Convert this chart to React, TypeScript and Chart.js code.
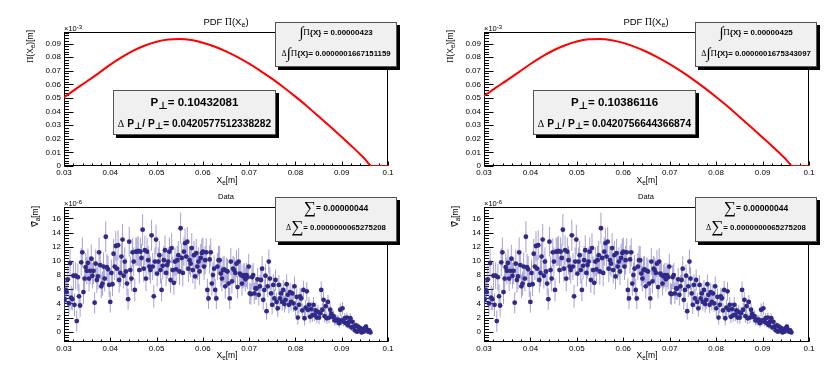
import React, { useEffect, useRef } from "react";
import { Chart, registerables } from "chart.js";

Chart.register(...registerables);

const SANS = "'Liberation Sans', Arial, Helvetica, sans-serif";
const SERIF = "'Liberation Serif', 'Times New Roman', serif";

// ---------- axes ----------
const X_TICKS = [0.03, 0.04, 0.05, 0.06, 0.07, 0.08, 0.09, 0.1];
const PDF_Y_TICKS = [0, 0.01, 0.02, 0.03, 0.04, 0.05, 0.06, 0.07, 0.08, 0.09];
const DATA_Y_TICKS = [0, 2, 4, 6, 8, 10, 12, 14, 16];

// ---------- PDF curves (units of 1e-3) ----------
const PDF_X = [
  0.03, 0.0325, 0.035, 0.0375, 0.04, 0.0425, 0.045, 0.0475, 0.05, 0.0525,
  0.055, 0.0575, 0.06, 0.0625, 0.065, 0.0675, 0.07, 0.0725, 0.075, 0.0775,
  0.08, 0.0825, 0.085, 0.0875, 0.09, 0.0925, 0.095, 0.0965, 0.1,
];
const PDF_LEFT_Y = [
  0.0505, 0.0565, 0.0623, 0.0683, 0.0745, 0.08, 0.0848, 0.0886, 0.0914, 0.093,
  0.0934, 0.0926, 0.0906, 0.0878, 0.0842, 0.08, 0.0752, 0.0698, 0.064, 0.0577,
  0.051, 0.044, 0.0365, 0.029, 0.0213, 0.0135, 0.0052, 0, 0,
];
const PDF_RIGHT_Y = [
  0.0515, 0.0574, 0.0631, 0.069, 0.075, 0.0804, 0.0851, 0.0888, 0.0915, 0.0931,
  0.0934, 0.0925, 0.0905, 0.0876, 0.084, 0.0797, 0.0749, 0.0695, 0.0637, 0.0574,
  0.0507, 0.0437, 0.0362, 0.0287, 0.021, 0.0132, 0.005, 0, 0,
];

// ---------- Data histogram (units of 1e-6), bins from first to last centre ----------
const DATA_X_FIRST = 0.0301;
const DATA_X_LAST = 0.0962;
const DATA_Y = [
  4.6, 5.9, 5.6, 7.4, 4.0, 9.7, 4.8, 4.6, 7.9, 3.8,
  7.9, 1.5, 7.7, 5.0, 3.7, 9.8, 11.2, 5.6, 7.5, 9.1,
  8.6, 9.7, 7.5, 8.6, 10.3, 7.9, 8.6, 4.1, 9.6, 7.3,
  7.8, 11.2, 9.4, 6.4, 6.8, 9.2, 7.5, 13.4, 9.1, 8.8,
  6.6, 4.2, 8.3, 6.7, 11.0, 9.2, 12.1, 8.9, 12.2, 7.3,
  8.3, 10.6, 13.0, 7.9, 9.9, 8.5, 6.8, 4.6, 12.7, 8.7,
  7.5, 11.2, 9.9, 5.9, 11.3, 11.3, 11.4, 8.7, 11.3, 10.4,
  14.4, 8.9, 11.5, 7.5, 11.3, 10.1, 9.2, 8.7, 13.6, 9.2,
  5.0, 9.9, 13.0, 8.2, 9.9, 10.8, 8.7, 5.9, 9.3, 10.1,
  11.5, 8.3, 9.4, 9.9, 11.3, 7.3, 11.8, 8.7, 6.9, 9.9,
  8.8, 10.1, 10.8, 8.5, 14.6, 10.4, 8.3, 11.3, 12.5, 10.6,
  12.7, 8.9, 10.1, 9.6, 11.8, 8.7, 10.8, 7.8, 11.1, 9.2,
  9.9, 8.5, 10.4, 11.1, 11.3, 9.2, 10.1, 11.2, 5.9, 4.7,
  10.2, 11.2, 6.8, 8.0, 8.9, 5.9, 4.7, 9.2, 10.1, 10.1,
  8.2, 7.5, 8.7, 8.8, 6.4, 8.6, 8.5, 6.8, 4.7, 9.9,
  7.1, 8.9, 8.7, 8.3, 9.6, 6.3, 9.9, 8.2, 8.0, 6.8,
  7.8, 8.0, 7.4, 8.0, 7.7, 9.2, 5.4, 5.3, 7.7, 8.0,
  5.4, 6.1, 6.1, 7.4, 5.2, 6.4, 7.3, 8.9, 4.5, 5.9,
  7.9, 2.9, 6.4, 9.9, 7.5, 5.4, 3.8, 6.6, 4.7, 7.3,
  4.2, 3.3, 6.6, 4.7, 5.4, 4.2, 5.9, 3.9, 4.5, 6.7,
  5.2, 3.8, 5.6, 4.2, 5.4, 4.0, 6.4, 3.3, 4.9, 2.0,
  3.8, 5.0, 4.7, 3.0, 5.9, 1.9, 3.4, 5.7, 3.1, 3.8,
  2.1, 3.2, 2.3, 3.8, 2.4, 3.0, 2.0, 2.8, 2.0, 2.6,
  5.9, 3.1, 4.5, 2.2, 3.6, 1.9, 4.2, 2.0, 3.1, 2.5,
  2.1, 2.2, 1.6, 1.7, 1.6, 1.7, 1.2, 3.1, 1.6, 3.3,
  1.4, 1.9, 1.2, 2.0, 0.9, 1.4, 1.9, 0.6, 1.4, 0.7,
  0.2, 0.9, 0.0, 0.7, 0.2, 0.5, -0.1, 0.3, 0.0, 0.5,
  0.7, 0.3, 0.0, 0.2, -0.1,
];
const DATA_ERR = [
  1.6, 1.8, 1.7, 1.9, 1.6, 2.0, 1.7, 1.6, 1.9, 1.6,
  1.9, 1.5, 1.9, 1.7, 1.6, 2.0, 2.1, 1.7, 1.9, 2.0,
  1.9, 2.0, 1.8, 1.9, 2.0, 1.8, 1.9, 1.5, 2.0, 1.8,
  1.8, 2.1, 2.0, 1.7, 1.7, 2.0, 1.8, 2.2, 1.9, 1.9,
  1.7, 1.5, 1.9, 1.7, 2.1, 1.9, 2.1, 1.9, 2.1, 1.8,
  1.9, 2.0, 2.2, 1.8, 2.0, 1.9, 1.7, 1.5, 2.1, 1.9,
  1.8, 2.0, 2.0, 1.6, 2.0, 2.0, 2.1, 1.9, 2.0, 2.0,
  2.2, 1.9, 2.1, 1.8, 2.0, 2.0, 1.9, 1.9, 2.2, 1.9,
  1.6, 2.0, 2.1, 1.8, 2.0, 2.0, 1.9, 1.6, 1.9, 2.0,
  2.1, 1.9, 1.9, 2.0, 2.0, 1.8, 2.1, 1.9, 1.7, 2.0,
  1.9, 2.0, 2.0, 1.9, 2.2, 2.0, 1.9, 2.0, 2.1, 2.0,
  2.1, 1.9, 2.0, 1.9, 2.1, 1.9, 2.0, 1.8, 2.0, 1.9,
  2.0, 1.9, 2.0, 2.0, 2.0, 1.9, 2.0, 2.0, 1.6, 1.5,
  2.0, 2.0, 1.7, 1.8, 1.9, 1.6, 1.5, 1.9, 2.0, 2.0,
  1.8, 1.8, 1.9, 1.9, 1.7, 1.9, 1.8, 1.7, 1.5, 1.9,
  1.7, 1.8, 1.8, 1.8, 1.9, 1.6, 1.9, 1.8, 1.7, 1.7,
  1.7, 1.7, 1.7, 1.7, 1.7, 1.8, 1.5, 1.5, 1.7, 1.7,
  1.5, 1.6, 1.6, 1.6, 1.5, 1.6, 1.6, 1.8, 1.4, 1.5,
  1.6, 1.2, 1.5, 1.7, 1.6, 1.4, 1.3, 1.5, 1.3, 1.5,
  1.3, 1.2, 1.4, 1.3, 1.4, 1.2, 1.4, 1.2, 1.3, 1.4,
  1.3, 1.2, 1.3, 1.2, 1.3, 1.2, 1.4, 1.1, 1.2, 1.0,
  1.2, 1.2, 1.2, 1.0, 1.3, 1.0, 1.1, 1.3, 1.0, 1.1,
  0.9, 1.0, 0.9, 1.1, 0.9, 1.0, 0.8, 1.0, 0.9, 0.9,
  1.2, 1.0, 1.1, 0.9, 1.0, 0.8, 1.0, 0.8, 0.9, 0.8,
  0.8, 0.8, 0.7, 0.7, 0.7, 0.7, 0.6, 0.9, 0.7, 0.9,
  0.6, 0.7, 0.6, 0.7, 0.5, 0.6, 0.7, 0.5, 0.6, 0.5,
  0.4, 0.5, 0.3, 0.5, 0.4, 0.4, 0.3, 0.4, 0.3, 0.4,
  0.4, 0.3, 0.3, 0.3, 0.3,
];

// ---------- box texts ----------
const LEFT_INT = "0.00000423";
const LEFT_DINT = "0.0000001667151159";
const LEFT_P = "0.10432081";
const LEFT_DP = "0.0420577512338282";
const RIGHT_INT = "0.00000425";
const RIGHT_DINT = "0.0000001675343097";
const RIGHT_P = "0.10386116";
const RIGHT_DP = "0.0420756644366874";
const SUM = "0.00000044";
const DSUM = "0.0000000065275208";

const fmtNum = (v: number) => String(+Number(v).toFixed(4));

function makeFramePlugin(yTicks: number[], yMinor: number) {
  return {
    id: "rootFrame",
    beforeDatasetsDraw(chart: any) {
      const { ctx, chartArea: a } = chart;
      const xs = chart.scales.x;
      const ys = chart.scales.y;
      ctx.save();
      ctx.strokeStyle = "#000";
      ctx.lineWidth = 1;
      const L = Math.round(a.left) + 0.5;
      const R = Math.round(a.right) - 0.5;
      const T = Math.round(a.top) + 0.5;
      const B = Math.round(a.bottom) - 0.5;
      ctx.strokeRect(L, T, R - L, B - T);
      ctx.beginPath();
      yTicks.forEach((v) => {
        const py = Math.round(ys.getPixelForValue(v)) + 0.5;
        ctx.moveTo(L, py);
        ctx.lineTo(L + 9, py);
      });
      const k0 = Math.ceil(ys.min / yMinor - 1e-9);
      const k1 = Math.floor(ys.max / yMinor + 1e-9);
      for (let k = k0; k <= k1; k++) {
        const py = Math.round(ys.getPixelForValue(k * yMinor)) + 0.5;
        ctx.moveTo(L, py);
        ctx.lineTo(L + 4.5, py);
      }
      X_TICKS.forEach((v) => {
        const px = Math.round(xs.getPixelForValue(v)) + 0.5;
        ctx.moveTo(px, B);
        ctx.lineTo(px, B - 4);
      });
      for (let k = 15; k <= 50; k++) {
        const px = Math.round(xs.getPixelForValue(k * 0.002)) + 0.5;
        ctx.moveTo(px, B);
        ctx.lineTo(px, B - 2);
      }
      ctx.stroke();

      // error bars
      ctx.beginPath();
      ctx.rect(a.left, a.top, a.right - a.left, a.bottom - a.top);
      ctx.clip();
      chart.data.datasets.forEach((ds: any) => {
        if (!ds.errors) return;
        ctx.strokeStyle = "rgba(112,102,192,0.62)";
        ctx.lineWidth = 1;
        ctx.beginPath();
        ds.data.forEach((p: any, j: number) => {
          const e = ds.errors[j];
          const px = xs.getPixelForValue(p.x);
          ctx.moveTo(px, ys.getPixelForValue(p.y - e));
          ctx.lineTo(px, ys.getPixelForValue(p.y + e));
        });
        ctx.stroke();
      });
      ctx.restore();
    },
  };
}

type PanelProps = {
  left: number;
  top: number;
  width: number;
  height: number;
  padTop: number;
  padRight: number;
  yAxisW: number;
  xAxisH: number;
  yMin: number;
  yMax: number;
  yTicks: number[];
  yMinor: number;
  kind: "pdf" | "data";
  pdfY?: number[];
};

function Panel(p: PanelProps) {
  const ref = useRef<HTMLCanvasElement>(null);
  useEffect(() => {
    let datasets: any[];
    if (p.kind === "pdf") {
      datasets = [
        {
          type: "line",
          data: PDF_X.map((x, i) => ({ x, y: p.pdfY![i] })),
          borderColor: "#ff0000",
          borderWidth: 2,
          pointRadius: 0,
          cubicInterpolationMode: "monotone",
          fill: false,
        },
      ];
    } else {
      const n = DATA_Y.length;
      const step = (DATA_X_LAST - DATA_X_FIRST) / (n - 1);
      datasets = [
        {
          type: "scatter",
          data: DATA_Y.map((y, i) => ({ x: DATA_X_FIRST + i * step, y })),
          errors: DATA_ERR,
          pointRadius: 2.4,
          pointBackgroundColor: "#2f2a88",
          pointBorderWidth: 0,
          showLine: false,
        },
      ];
    }
    const tickFont = { family: SANS, size: 8 };
    const chart = new Chart(ref.current as HTMLCanvasElement, {
      type: "scatter",
      data: { datasets },
      options: {
        animation: false,
        responsive: false,
        maintainAspectRatio: false,
        events: [],
        layout: { padding: { top: p.padTop, right: p.padRight, left: 0, bottom: 0 } },
        plugins: { legend: { display: false }, tooltip: { enabled: false }, title: { display: false } },
        scales: {
          x: {
            type: "linear",
            min: 0.03,
            max: 0.1,
            grid: { display: false, drawTicks: false },
            border: { display: false },
            afterBuildTicks: (s: any) => {
              s.ticks = X_TICKS.map((v) => ({ value: v }));
            },
            afterFit: (s: any) => {
              s.height = p.xAxisH;
            },
            ticks: {
              padding: 2,
              font: tickFont,
              color: "#000",
              maxRotation: 0,
              minRotation: 0,
              autoSkip: false,
              callback: (v: any) => fmtNum(v),
            },
          },
          y: {
            type: "linear",
            min: p.yMin,
            max: p.yMax,
            grid: { display: false, drawTicks: false },
            border: { display: false },
            afterBuildTicks: (s: any) => {
              s.ticks = p.yTicks.map((v) => ({ value: v }));
            },
            afterFit: (s: any) => {
              s.width = p.yAxisW;
            },
            ticks: {
              padding: 3,
              font: tickFont,
              color: "#000",
              autoSkip: false,
              callback: (v: any) => fmtNum(v),
            },
          },
        },
      } as any,
      plugins: [makeFramePlugin(p.yTicks, p.yMinor)],
    });
    return () => chart.destroy();
  }, []);
  return (
    <canvas
      ref={ref}
      width={p.width}
      height={p.height}
      style={{ position: "absolute", left: p.left, top: p.top, width: p.width, height: p.height }}
    />
  );
}

function Txt(props: { x: number; y: number; size: number; center?: boolean; children: any; family?: string; bold?: boolean }) {
  return (
    <div
      style={{
        position: "absolute",
        left: props.x,
        top: props.y,
        transform: props.center ? "translateX(-50%)" : undefined,
        fontFamily: props.family || SANS,
        fontSize: props.size,
        fontWeight: props.bold ? 700 : 400,
        lineHeight: 1,
        whiteSpace: "nowrap",
        color: "#000",
      }}
    >
      {props.children}
    </div>
  );
}

function YTitle(props: { xl: number; top: number; size: number; children: any }) {
  return (
    <div
      style={{
        position: "absolute",
        right: 836 - props.xl,
        top: props.top,
        transformOrigin: "top right",
        transform: "rotate(-90deg)",
        fontFamily: SANS,
        fontSize: props.size,
        lineHeight: 1,
        whiteSpace: "nowrap",
        color: "#000",
      }}
    >
      {props.children}
    </div>
  );
}

function Box(props: { x: number; y: number; w: number; h: number; children: any }) {
  return (
    <div
      style={{
        position: "absolute",
        left: props.x,
        top: props.y,
        width: props.w,
        height: props.h,
        background: "#f0f0f0",
        border: "1px solid #555",
        boxShadow: "3px 3px 0 #000",
        boxSizing: "border-box",
      }}
    >
      {props.children}
    </div>
  );
}

function Line(props: { cy: number; size: number; children: any }) {
  return (
    <div
      style={{
        position: "absolute",
        left: 0,
        right: 0,
        top: props.cy - 10,
        height: 20,
        display: "flex",
        alignItems: "center",
        justifyContent: "center",
        whiteSpace: "nowrap",
        fontFamily: SANS,
        fontWeight: 700,
        fontSize: props.size,
        color: "#000",
      }}
    >
      {props.children}
    </div>
  );
}

const Sub = (props: { children: any }) => (
  <span style={{ fontSize: "0.75em", position: "relative", top: "0.3em" }}>{props.children}</span>
);
const Serif = (props: { size?: number; children: any }) => (
  <span style={{ fontFamily: SERIF, fontWeight: 400, fontSize: props.size }}>{props.children}</span>
);
const Perp = () => (
  <span style={{ fontSize: "0.9em", position: "relative", top: "0.3em", fontFamily: "'DejaVu Sans', sans-serif" }}>⊥</span>
);

function PdfTexts(props: { dx: number; xl: number; intV: string; dintV: string; pV: string; dpV: string }) {
  const dx = props.dx;
  return (
    <>
      <Txt x={226 + dx} y={17} size={9.5} center>
        PDF <Serif>Π</Serif>(X<Sub>e</Sub>)
      </Txt>
      <Txt x={64 + dx} y={25} size={7.5}>
        ×10<span style={{ fontSize: "0.8em", position: "relative", top: "-0.4em" }}>-3</span>
      </Txt>
      <YTitle xl={props.xl + dx} top={30} size={8.5}>
        <Serif>Π</Serif>(X<Sub>e</Sub>)[m]
      </YTitle>
      <Txt x={227 + dx} y={176} size={8.5} center>
        X<Sub>e</Sub>[m]
      </Txt>
      <Box x={275 + dx} y={22} w={122} h={45}>
        <Line cy={9} size={8}>
          <Serif size={15}>∫</Serif>
          <Serif size={9}>Π</Serif>
          {"{X} = " + props.intV}
        </Line>
        <Line cy={30} size={7.8}>
          <Serif size={8}>Δ</Serif>
          <Serif size={15}>∫</Serif>
          <Serif size={9}>Π</Serif>
          {"{X}= " + props.dintV}
        </Line>
      </Box>
      <Box x={113 + dx} y={90} w={163} h={45}>
        <Line cy={11} size={11.5}>
          P<Perp />= {props.pV}
        </Line>
        <Line cy={32} size={10.2}>
          <Serif size={10}>Δ</Serif>&nbsp;P<Perp />/ P<Perp />= {props.dpV}
        </Line>
      </Box>
    </>
  );
}

function DataTexts(props: { dx: number; xl: number }) {
  const dx = props.dx;
  return (
    <>
      <Txt x={226 + dx} y={193} size={7.5} center>
        Data
      </Txt>
      <Txt x={64 + dx} y={200} size={7.5}>
        ×10<span style={{ fontSize: "0.8em", position: "relative", top: "-0.4em" }}>-6</span>
      </Txt>
      <YTitle xl={props.xl + dx} top={206} size={8.5}>
        ∇̄<Sub>a</Sub>[m]
      </YTitle>
      <Txt x={227 + dx} y={351} size={8.5} center>
        X<Sub>e</Sub>[m]
      </Txt>
      <Box x={275 + dx} y={197} w={122} h={45}>
        <Line cy={10} size={8.5}>
          <Serif size={17}>∑</Serif>
          {" = " + SUM}
        </Line>
        <Line cy={29} size={7.8}>
          <Serif size={8}>Δ</Serif>
          <Serif size={17}>∑</Serif>
          {" = " + DSUM}
        </Line>
      </Box>
    </>
  );
}

export default function App() {
  return (
    <div
      style={{
        position: "fixed",
        left: 0,
        top: 0,
        width: 836,
        height: 375,
        background: "#fff",
        overflow: "hidden",
      }}
    >
      <Panel left={0} top={0} width={418} height={190} padTop={32} padRight={30} yAxisW={64} xAxisH={24}
        yMin={0} yMax={0.0985} yTicks={PDF_Y_TICKS} yMinor={0.002} kind="pdf" pdfY={PDF_LEFT_Y} />
      <Panel left={418} top={0} width={418} height={190} padTop={32} padRight={27} yAxisW={66} xAxisH={24}
        yMin={0} yMax={0.0985} yTicks={PDF_Y_TICKS} yMinor={0.002} kind="pdf" pdfY={PDF_RIGHT_Y} />
      <Panel left={0} top={190} width={418} height={185} padTop={17} padRight={30} yAxisW={64} xAxisH={33}
        yMin={-1.45} yMax={17.6} yTicks={DATA_Y_TICKS} yMinor={0.4} kind="data" />
      <Panel left={418} top={190} width={418} height={185} padTop={17} padRight={27} yAxisW={66} xAxisH={33}
        yMin={-1.45} yMax={17.6} yTicks={DATA_Y_TICKS} yMinor={0.4} kind="data" />

      <PdfTexts dx={0} xl={26} intV={LEFT_INT} dintV={LEFT_DINT} pV={LEFT_P} dpV={LEFT_DP} />
      <PdfTexts dx={420} xl={26} intV={RIGHT_INT} dintV={RIGHT_DINT} pV={RIGHT_P} dpV={RIGHT_DP} />
      <DataTexts dx={0} xl={31} />
      <DataTexts dx={420} xl={31} />
    </div>
  );
}
